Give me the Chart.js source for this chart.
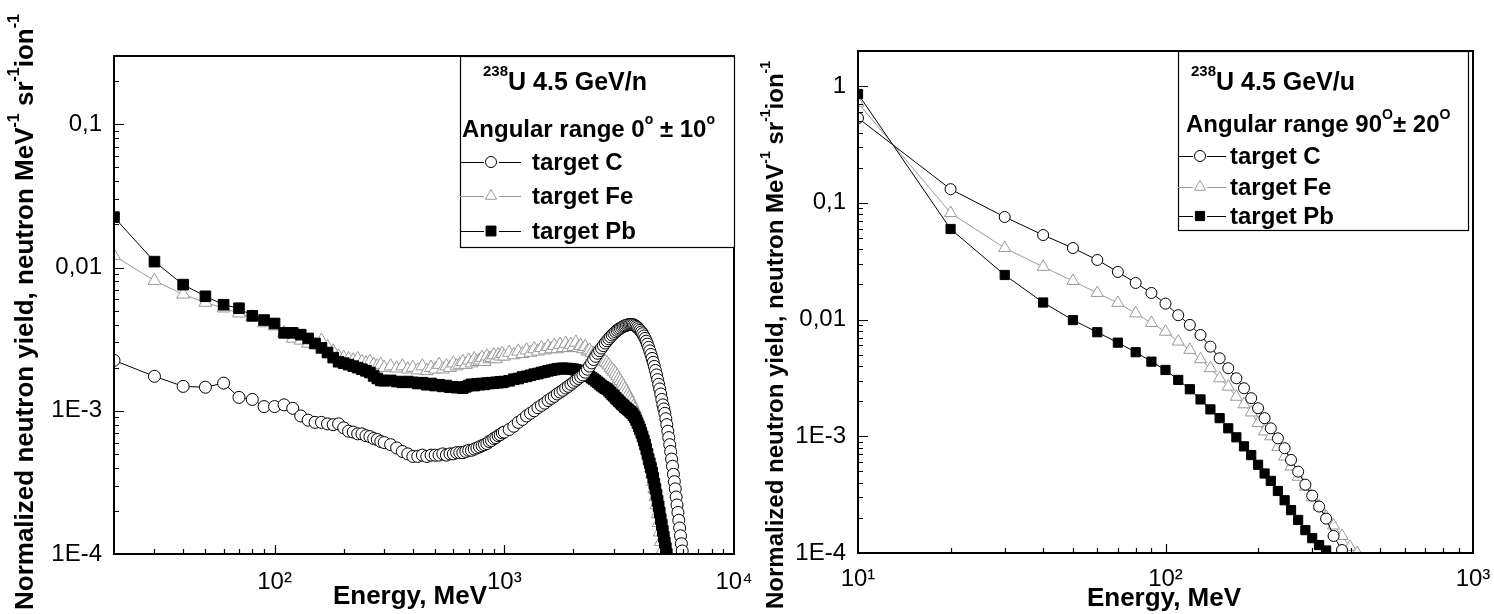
<!DOCTYPE html>
<html><head><meta charset="utf-8">
<script src="https://cdn.jsdelivr.net/npm/chart.js@4.4.1/dist/chart.umd.min.js"></script>
<style>
html,body{margin:0;padding:0;background:#fff;}
body{width:1494px;height:614px;position:relative;overflow:hidden;}
canvas{position:absolute;top:0;}
#c1{left:0;width:780px;height:614px;}
#c2{left:740px;width:780px;height:614px;}
</style></head><body>
<canvas id="c1" width="780" height="614"></canvas>
<canvas id="c2" width="780" height="614"></canvas>
<script>
// ---------------- LEFT PANEL DATA (0° ± 10°) ----------------
const leftEnergy = [20,30,40,50,60,70,80,90,100,110,120,130,140,150,160,170,180,190,200,210,220,230,240,250,260,270,280,290,300,
320,340,360,380,400,420,440,460,480,500,520,540,560,580,600,620,640,660,680,700,720,740,760,780,800,820,840,860,880,900,920,940,960,980,1000,
1050,1100,1150,1200,1250,1300,1350,1400,1450,1500,1550,1600,1650,1700,1750,1800,1850,1900,1950,2000,
2050,2100,2150,2200,2250,2300,2350,2400,2450,2500,2550,2600,2650,2700,2750,2800,2850,2900,2950,3000,
3050,3100,3150,3200,3250,3300,3350,3400,3450,3500,3550,3600,3650,3700,3750,3800,3850,3900,3950,4000,
4050,4100,4150,4200,4250,4300,4350,4400,4450,4500,4550,4600,4650,4700,4750,4800,4850,4900,4950,5000,
5050,5100,5150,5200,5250,5300,5350,5400,5450,5500,5550,5600,5650,5700,5750,5800,5850,5900,5950,6000];

const leftC = [
2.25e-3,1.74e-3,1.48e-3,1.46e-3,1.56e-3,1.24e-3,1.20e-3,1.07e-3,1.07e-3,1.10e-3,
1.04e-3,9.2e-4,8.6e-4,8.3e-4,8.3e-4,8.1e-4,8.0e-4,8.1e-4,7.6e-4,7.2e-4,
7.1e-4,6.9e-4,6.9e-4,6.7e-4,6.6e-4,6.4e-4,6.3e-4,6.1e-4,6.0e-4,
5.8e-4,5.5e-4,5.2e-4,5.0e-4,4.8e-4,4.8e-4,4.9e-4,4.8e-4,4.9e-4,4.9e-4,
4.9e-4,5.0e-4,4.9e-4,5.0e-4,5.0e-4,5.1e-4,5.1e-4,5.1e-4,5.2e-4,5.3e-4,
5.3e-4,5.4e-4,5.5e-4,5.6e-4,5.7e-4,5.8e-4,5.9e-4,6.1e-4,6.2e-4,6.4e-4,
6.5e-4,6.7e-4,6.8e-4,7.0e-4,7.1e-4,
7.4e-4,7.8e-4,8.3e-4,8.7e-4,9.2e-4,9.6e-4,1.0e-3,1.05e-3,1.09e-3,1.13e-3,
1.18e-3,1.22e-3,1.26e-3,1.31e-3,1.35e-3,1.39e-3,1.44e-3,1.48e-3,1.53e-3,1.58e-3,
1.63e-3,1.68e-3,1.73e-3,1.78e-3,1.86e-3,1.95e-3,2.05e-3,2.16e-3,2.28e-3,2.40e-3,
2.52e-3,2.63e-3,2.74e-3,2.85e-3,2.97e-3,3.08e-3,3.18e-3,3.28e-3,3.38e-3,3.47e-3,
3.56e-3,3.64e-3,3.71e-3,3.77e-3,3.83e-3,3.88e-3,3.92e-3,3.95e-3,3.98e-3,4.0e-3,
4.01e-3,4.0e-3,3.98e-3,3.94e-3,3.88e-3,3.81e-3,3.73e-3,3.64e-3,3.55e-3,3.45e-3,
3.33e-3,3.2e-3,3.06e-3,2.92e-3,2.77e-3,2.62e-3,2.47e-3,2.32e-3,2.18e-3,2.04e-3,
1.91e-3,1.78e-3,1.65e-3,1.53e-3,1.42e-3,1.31e-3,1.2e-3,1.1e-3,1.03e-3,9.6e-4,
8.8e-4,8.0e-4,7.2e-4,6.5e-4,5.8e-4,5.2e-4,4.6e-4,4.1e-4,3.6e-4,3.2e-4,
2.85e-4,2.5e-4,2.2e-4,1.95e-4,1.72e-4,1.52e-4,1.34e-4,1.18e-4,1.05e-4,9.2e-5];

const leftFe = [
0.0121,8.1e-3,6.5e-3,5.7e-3,5.2e-3,4.8e-3,4.5e-3,4.1e-3,3.9e-3,3.5e-3,
3.2e-3,3.1e-3,2.95e-3,2.9e-3,3.1e-3,2.8e-3,2.6e-3,2.4e-3,2.35e-3,2.3e-3,
2.25e-3,2.3e-3,2.2e-3,2.15e-3,2.2e-3,2.1e-3,2.05e-3,2.1e-3,2.0e-3,
2.05e-3,1.98e-3,2.05e-3,1.95e-3,2.0e-3,1.92e-3,2.05e-3,1.9e-3,2.0e-3,1.95e-3,
2.1e-3,1.95e-3,2.05e-3,2.0e-3,2.15e-3,2.05e-3,2.1e-3,2.2e-3,2.1e-3,2.25e-3,
2.15e-3,2.3e-3,2.2e-3,2.25e-3,2.35e-3,2.2e-3,2.4e-3,2.3e-3,2.35e-3,2.45e-3,
2.3e-3,2.45e-3,2.4e-3,2.5e-3,2.4e-3,
2.55e-3,2.45e-3,2.6e-3,2.5e-3,2.65e-3,2.55e-3,2.7e-3,2.6e-3,2.75e-3,2.65e-3,
2.8e-3,2.7e-3,2.85e-3,2.7e-3,2.9e-3,2.75e-3,2.95e-3,2.75e-3,2.9e-3,2.8e-3,
3.0e-3,2.75e-3,2.85e-3,2.7e-3,2.8e-3,2.6e-3,2.65e-3,2.55e-3,2.5e-3,2.45e-3,
2.4e-3,2.35e-3,2.3e-3,2.25e-3,2.2e-3,2.15e-3,2.08e-3,2.0e-3,1.94e-3,1.88e-3,
1.82e-3,1.75e-3,1.68e-3,1.62e-3,1.55e-3,1.49e-3,1.42e-3,1.36e-3,1.3e-3,1.24e-3,
1.18e-3,1.13e-3,1.07e-3,1.02e-3,9.6e-4,9.1e-4,8.6e-4,8.1e-4,7.6e-4,7.1e-4,
6.6e-4,6.1e-4,5.7e-4,5.2e-4,4.8e-4,4.4e-4,4.0e-4,3.6e-4,3.2e-4,2.85e-4,
2.5e-4,2.2e-4,1.9e-4,1.65e-4,1.42e-4,1.22e-4,1.05e-4,9.0e-5,null,null,
null,null,null,null,null,null,null,null,null,null,
null,null,null,null,null,null,null,null,null,null];

const leftPb = [
0.0225,0.0110,7.6e-3,6.3e-3,5.5e-3,5.2e-3,4.6e-3,4.3e-3,4.07e-3,3.5e-3,
3.5e-3,3.4e-3,3.2e-3,2.95e-3,2.75e-3,2.55e-3,2.35e-3,2.2e-3,2.15e-3,2.1e-3,
2.05e-3,2.0e-3,1.95e-3,1.9e-3,1.85e-3,1.75e-3,1.68e-3,1.63e-3,1.62e-3,
1.63e-3,1.6e-3,1.58e-3,1.6e-3,1.58e-3,1.55e-3,1.57e-3,1.52e-3,1.55e-3,1.5e-3,
1.52e-3,1.48e-3,1.5e-3,1.46e-3,1.47e-3,1.45e-3,1.46e-3,1.44e-3,1.47e-3,1.5e-3,
1.53e-3,1.5e-3,1.54e-3,1.52e-3,1.55e-3,1.53e-3,1.56e-3,1.55e-3,1.57e-3,1.56e-3,
1.58e-3,1.57e-3,1.59e-3,1.58e-3,1.6e-3,
1.62e-3,1.66e-3,1.68e-3,1.72e-3,1.74e-3,1.77e-3,1.8e-3,1.82e-3,1.85e-3,1.87e-3,
1.9e-3,1.92e-3,1.94e-3,1.96e-3,1.97e-3,1.98e-3,1.97e-3,1.97e-3,1.96e-3,1.95e-3,
1.93e-3,1.91e-3,1.88e-3,1.85e-3,1.82e-3,1.78e-3,1.74e-3,1.7e-3,1.66e-3,1.62e-3,
1.58e-3,1.54e-3,1.5e-3,1.47e-3,1.44e-3,1.42e-3,1.38e-3,1.34e-3,1.3e-3,1.27e-3,
1.23e-3,1.2e-3,1.17e-3,1.14e-3,1.11e-3,1.09e-3,1.06e-3,1.04e-3,1.02e-3,1.0e-3,
9.8e-4,9.6e-4,9.3e-4,9.0e-4,8.6e-4,8.2e-4,7.8e-4,7.4e-4,7.0e-4,6.6e-4,
6.2e-4,5.8e-4,5.4e-4,5.0e-4,4.6e-4,4.3e-4,4.0e-4,3.7e-4,3.4e-4,3.1e-4,
2.85e-4,2.6e-4,2.35e-4,2.15e-4,1.95e-4,1.75e-4,1.6e-4,1.45e-4,1.32e-4,1.2e-4,
1.1e-4,1.0e-4,9.2e-5,8.4e-5,null,null,null,null,null,null,
null,null,null,null,null,null,null,null,null,null];

const leftXTicks = [100, 1000, 10000];
const leftXLabels = ['10\u00B2', '10\u00B3', '10\u2074'];
const leftYTicks = [1e-4, 1e-3, 0.01, 0.1];
const leftYLabels = ['1E-4', '1E-3', '0,01', '0,1'];

// ---------------- RIGHT PANEL DATA (90° ± 20°) ----------------
const rightEnergy = [10,20,30,40,50,60,70,80,90,100,110,120,130,140,150,160,170,180,190,200,
210,220,232,244,256,270,285,300,316,333,352,375,398,420];
const rightC = [0.533,0.131,0.0757,0.053,0.041,0.0324,0.0256,0.0206,0.0169,0.0137,
0.0109,9.0e-3,7.38e-3,5.86e-3,4.66e-3,3.83e-3,3.14e-3,2.58e-3,2.12e-3,1.74e-3,
1.43e-3,1.17e-3,9.6e-4,7.9e-4,6.27e-4,4.98e-4,3.85e-4,3.1e-4,2.5e-4,1.97e-4,1.4e-4,1.06e-4,8.5e-5,null];
const rightFe = [0.72,0.0818,0.041,0.0283,0.0214,0.0169,0.0139,0.0113,9.35e-3,7.87e-3,
6.48e-3,5.5e-3,4.57e-3,3.83e-3,3.14e-3,2.66e-3,2.18e-3,1.88e-3,1.6e-3,1.3e-3,
1.1e-3,1.0e-3,8.1e-4,6.7e-4,5.5e-4,4.5e-4,3.7e-4,3.0e-4,2.5e-4,2.05e-4,1.72e-4,1.4e-4,1.13e-4,1.0e-4];
const rightPb = [0.857,0.0597,0.0241,0.0140,9.9e-3,7.79e-3,6.34e-3,5.25e-3,4.36e-3,3.70e-3,
3.04e-3,2.53e-3,2.07e-3,1.70e-3,1.43e-3,1.17e-3,9.8e-4,8.2e-4,6.9e-4,5.7e-4,
4.8e-4,4.15e-4,3.4e-4,2.83e-4,2.33e-4,1.92e-4,1.57e-4,1.34e-4,1.17e-4,1.05e-4,9.0e-5,null,null,null];

const rightXTicks = [10, 100, 1000];
const rightXLabels = ['10\u00B9', '10\u00B2', '10\u00B3'];
const rightYTicks = [1e-4, 1e-3, 0.01, 0.1, 1];
const rightYLabels = ['1E-4', '1E-3', '0,01', '0,1', '1'];

const seriesNames = ['target C', 'target Fe', 'target Pb'];

// ---------------- helpers ----------------
const FONT = "'Liberation Sans', Arial, Helvetica, sans-serif";
const GREY = '#9a9a9a';

function pts(xs, ys) { return xs.map((x, i) => ({x: x, y: ys[i]})); }

function richWidth(ctx, parts, size) {
  let w = 0;
  for (const [t, sup] of parts) {
    ctx.font = 'bold ' + (sup ? Math.round(size * 0.6) : size) + 'px ' + FONT;
    w += ctx.measureText(t).width;
  }
  return w;
}
function drawRich(ctx, parts, x, y, size, align) {
  const w = richWidth(ctx, parts, size);
  let cx = align === 'center' ? x - w / 2 : x;
  ctx.textAlign = 'left';
  ctx.textBaseline = 'alphabetic';
  ctx.fillStyle = '#000';
  for (const [t, sup] of parts) {
    ctx.font = 'bold ' + (sup ? Math.round(size * 0.6) : size) + 'px ' + FONT;
    ctx.fillText(t, cx, sup ? y - size * 0.55 : y);
    cx += ctx.measureText(t).width;
  }
}
function marker(ctx, style, x, y, r, stroke, fill) {
  ctx.beginPath();
  if (style === 'circle') ctx.arc(x, y, r, 0, Math.PI * 2);
  else if (style === 'rect') { const s = r * Math.SQRT1_2; ctx.rect(x - s, y - s, 2 * s, 2 * s); }
  else {
    ctx.moveTo(x, y - r);
    ctx.lineTo(x + r * Math.sin(2 * Math.PI / 3), y - r * Math.cos(2 * Math.PI / 3));
    ctx.lineTo(x + r * Math.sin(4 * Math.PI / 3), y - r * Math.cos(4 * Math.PI / 3));
    ctx.closePath();
  }
  ctx.fillStyle = fill; ctx.fill();
  ctx.strokeStyle = stroke; ctx.lineWidth = 1; ctx.stroke();
}
function logTickValues(min, max) {
  const out = [];
  for (let n = Math.floor(Math.log10(min)) - 1; n <= Math.ceil(Math.log10(max)); n++) {
    for (let k = 1; k <= 9; k++) {
      const v = k * Math.pow(10, n);
      if (v >= min * 0.9999 && v <= max * 1.0001) out.push({v: v, major: k === 1});
    }
  }
  return out;
}

function decorPlugin(cfg) {
  return {
    id: 'decor',
    afterDraw(chart) {
      const ctx = chart.ctx, a = chart.chartArea;
      const xs = chart.scales.x, ys = chart.scales.y;
      ctx.save();
      ctx.strokeStyle = '#000';
      ctx.lineWidth = 1.2;
      ctx.beginPath();
      for (const t of logTickValues(xs.min, xs.max)) {
        const px = Math.round(xs.getPixelForValue(t.v)) + 0.5;
        if (px <= a.left + 1 || px >= a.right - 1) continue;
        ctx.moveTo(px, a.bottom); ctx.lineTo(px, a.bottom - (t.major ? 9 : 5));
      }
      for (const t of logTickValues(ys.min, ys.max)) {
        const py = Math.round(ys.getPixelForValue(t.v)) + 0.5;
        if (py <= a.top + 1 || py >= a.bottom - 1) continue;
        ctx.moveTo(a.left, py); ctx.lineTo(a.left + (t.major ? 10 : 5), py);
      }
      ctx.stroke();
      // frame
      ctx.lineWidth = 2;
      ctx.strokeRect(a.left, a.top, a.right - a.left, a.bottom - a.top);
      // legend box
      const L = cfg.legend;
      ctx.fillStyle = '#fff';
      ctx.fillRect(L.x0, L.y0, L.x1 - L.x0, L.y1 - L.y0);
      ctx.lineWidth = 1.2;
      ctx.strokeStyle = '#000';
      ctx.strokeRect(L.x0 + 0.5, L.y0 + 0.5, L.x1 - L.x0, L.y1 - L.y0);
      drawRich(ctx, L.title1, L.t1x, L.t1y, L.size1, 'left');
      drawRich(ctx, L.title2, L.t2x, L.t2y, L.size, 'left');
      chart.data.datasets.forEach((ds, i) => {
        const y = L.rows[i];
        ctx.strokeStyle = ds.borderColor; ctx.lineWidth = 1;
        ctx.beginPath();
        ctx.moveTo(L.x0, y + 0.5); ctx.lineTo(L.lineA, y + 0.5);
        ctx.moveTo(L.lineB, y + 0.5); ctx.lineTo(L.lineC, y + 0.5);
        ctx.stroke();
        marker(ctx, ds.pointStyle, L.sym, y, L.symR[i], ds.pointBorderColor, ds.pointBackgroundColor);
        ctx.fillStyle = '#000';
        ctx.font = 'bold ' + L.size + 'px ' + FONT;
        ctx.textAlign = 'left'; ctx.textBaseline = 'middle';
        ctx.fillText(ds.label, L.textX, y + 1);
      });
      // axis titles
      drawRich(ctx, [['Energy, MeV', 0]], cfg.xTitle.x, cfg.xTitle.y, cfg.xTitleSize, 'center');
      ctx.save();
      ctx.translate(cfg.yTitle.x, cfg.yTitle.y);
      ctx.rotate(-Math.PI / 2);
      drawRich(ctx, [['Normalized neutron yield, neutron MeV', 0], ['-1', 1], [' sr', 0], ['-1', 1], ['ion', 0], ['-1', 1]], 0, 0, cfg.yTitleSize, 'center');
      ctx.restore();
      ctx.restore();
    }
  };
}

function makeChart(canvasId, opt) {
  const datasets = [
    {label: seriesNames[0], data: pts(opt.energy, opt.C), borderColor: '#000', borderWidth: 1,
     pointStyle: 'circle', pointRadius: opt.r[0], pointBorderColor: '#000', pointBackgroundColor: '#fff', pointBorderWidth: 1, order: 1},
    {label: seriesNames[1], data: pts(opt.energy, opt.Fe), borderColor: GREY, borderWidth: 1,
     pointStyle: 'triangle', pointRadius: opt.r[1], pointBorderColor: GREY, pointBackgroundColor: '#fff', pointBorderWidth: 1, order: 3},
    {label: seriesNames[2], data: pts(opt.energy, opt.Pb), borderColor: '#000', borderWidth: 1,
     pointStyle: 'rect', pointRadius: opt.r[2], pointBorderColor: '#000', pointBackgroundColor: '#000', pointBorderWidth: 1, order: 2}
  ];
  datasets.forEach(d => { d.tension = 0; d.fill = false; d.pointHoverRadius = d.pointRadius; d.spanGaps = false; });
  return new Chart(document.getElementById(canvasId), {
    type: 'line',
    data: {datasets: datasets},
    options: {
      responsive: false, animation: false, devicePixelRatio: 1,
      layout: {padding: opt.padding},
      plugins: {legend: {display: false}, tooltip: {enabled: false}},
      events: [],
      scales: {
        x: {
          type: 'logarithmic', position: 'bottom', min: opt.xMin, max: opt.xMax,
          grid: {display: false, drawTicks: false}, border: {display: false},
          afterBuildTicks: s => { s.ticks = opt.xTicks.map(v => ({value: v})); },
          afterFit: s => { s.height = opt.xH; },
          ticks: {autoSkip: false, maxRotation: 0, padding: opt.xPad, color: '#000',
                  font: {family: FONT, size: 24}, callback: (v, i) => opt.xLabels[i]}
        },
        y: {
          type: 'logarithmic', position: 'left', min: opt.yMin, max: opt.yMax,
          grid: {display: false, drawTicks: false}, border: {display: false},
          afterBuildTicks: s => { s.ticks = opt.yTicks.map(v => ({value: v})); },
          afterFit: s => { s.width = opt.yW; },
          ticks: {autoSkip: false, padding: 12, color: '#000',
                  font: {family: FONT, size: 24}, callback: (v, i) => opt.yLabels[i]}
        }
      }
    },
    plugins: [decorPlugin(opt.decor)]
  });
}

// LEFT chart: canvas at x=0
makeChart('c1', {
  energy: leftEnergy, C: leftC, Fe: leftFe, Pb: leftPb, r: [6, 7.5, 7.5],
  xMin: 20, xMax: 10000, yMin: 1e-4, yMax: 0.3,
  xTicks: leftXTicks, xLabels: leftXLabels, yTicks: leftYTicks, yLabels: leftYLabels,
  padding: {left: 0, top: 56, right: 46, bottom: 0}, yW: 114, xH: 60, xPad: 14,
  decor: {
    xTitleSize: 26, yTitleSize: 26,
    xTitle: {x: 410, y: 604},
    yTitle: {x: 33, y: 312},
    legend: {x0: 460, y0: 56, x1: 734, y1: 247, size: 24, size1: 25,
      title1: [['238', 1], ['U 4.5 GeV/n', 0]], t1x: 483, t1y: 90,
      title2: [['Angular range 0', 0], ['o', 1], [' \u00B1 10', 0], ['o', 1]], t2x: 462, t2y: 137,
      rows: [162, 196, 231], lineA: 484, lineB: 499, lineC: 521, sym: 491, symR: [5.5, 6.5, 7], textX: 532}
  }
});

// RIGHT chart: canvas at x=740
makeChart('c2', {
  energy: rightEnergy, C: rightC, Fe: rightFe, Pb: rightPb, r: [5.5, 7, 6.5],
  xMin: 10, xMax: 1000, yMin: 1e-4, yMax: 2,
  xTicks: rightXTicks, xLabels: rightXLabels, yTicks: rightYTicks, yLabels: rightYLabels,
  padding: {left: 0, top: 51, right: 47, bottom: 0}, yW: 118, xH: 61, xPad: 12,
  decor: {
    xTitleSize: 26, yTitleSize: 24,
    xTitle: {x: 424, y: 606},
    yTitle: {x: 43, y: 335},
    legend: {x0: 438, y0: 51, x1: 728, y1: 230, size: 24, size1: 25,
      title1: [['238', 1], ['U 4.5 GeV/u', 0]], t1x: 451, t1y: 90,
      title2: [['Angular range 90', 0], ['O', 1], ['\u00B1 20', 0], ['O', 1]], t2x: 446, t2y: 132,
      rows: [156, 187, 216], lineA: 453, lineB: 467, lineC: 486, sym: 460, symR: [5.5, 6.5, 6.5], textX: 490}
  }
});
</script>
</body></html>
